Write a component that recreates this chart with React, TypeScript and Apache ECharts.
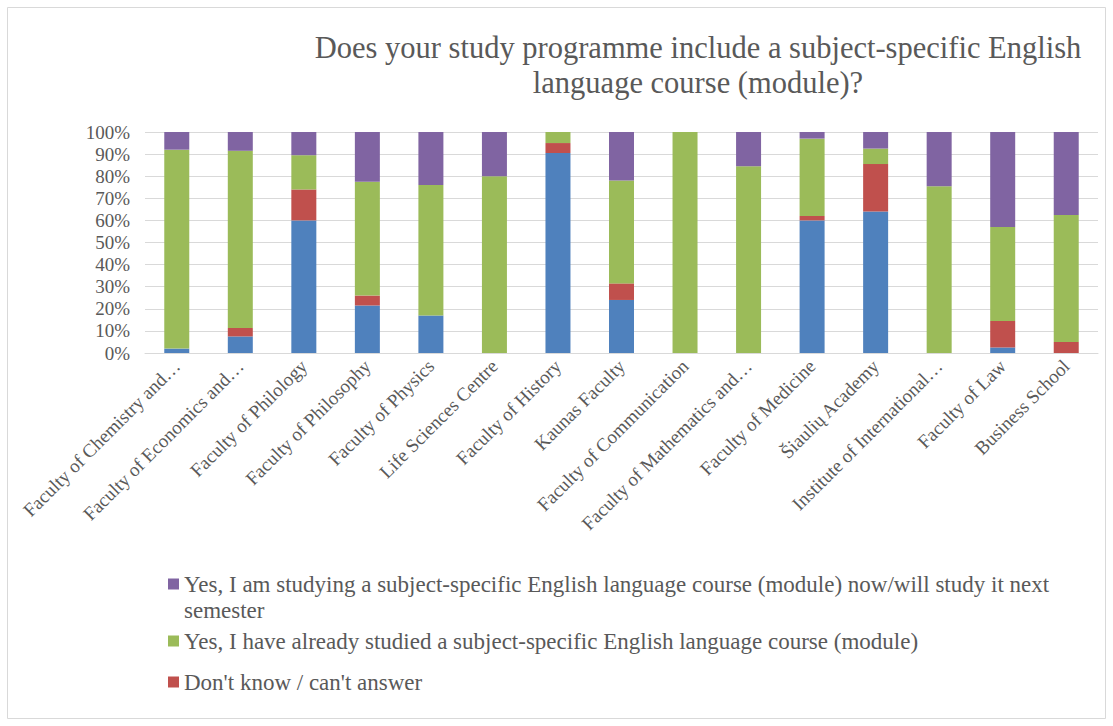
import React, { useEffect, useRef } from "react";
import * as echarts from "echarts";

const categories = [
  "Faculty of Chemistry and…",
  "Faculty of Economics and…",
  "Faculty of Philology",
  "Faculty of Philosophy",
  "Faculty of Physics",
  "Life Sciences Centre",
  "Faculty of History",
  "Kaunas Faculty",
  "Faculty of Communication",
  "Faculty of Mathematics and…",
  "Faculty of Medicine",
  "Šiaulių Academy",
  "Institute of International…",
  "Faculty of Law",
  "Business School",
];

const seriesNames = [
  "No",
  "Don't know / can't answer",
  "Yes, I have already studied a subject-specific English language course (module)",
  "Yes, I am studying a subject-specific English language course (module) now/will study it next semester",
];

const noValues = [2, 7.5, 60, 21.5, 17, 0, 90.5, 24, 0, 0, 60, 64, 0, 2.5, 0];
const dontKnowValues = [0, 3.8, 14, 4.5, 0, 0, 4.5, 7.5, 0, 0, 2, 21.5, 0, 12, 5];
const studiedValues = [90, 80.2, 15.5, 51.5, 59, 80, 5, 46.5, 100, 84.5, 35, 7, 75.5, 42.5, 57.5];
const studyingValues = [8, 8.5, 10.5, 22.5, 24, 20, 0, 22, 0, 15.5, 3, 7.5, 24.5, 43, 37.5];

const yTicks = [0, 10, 20, 30, 40, 50, 60, 70, 80, 90, 100];

const colors = ["#4f81bd", "#c0504d", "#9bbb59", "#8064a2"];
const FONT = "Liberation Serif";
const GRAY = "#595959";

export default function App() {
  const ref = useRef<HTMLDivElement>(null);
  useEffect(() => {
    document.body.style.margin = "0";
    const chart = echarts.init(ref.current!, null, { renderer: "svg" });
    const values = [noValues, dontKnowValues, studiedValues, studyingValues];
    const legendText = { fontFamily: FONT, fontSize: 23, color: GRAY, lineHeight: 26 };
    const legendBase = {
      orient: "vertical" as const,
      left: 168,
      padding: 0,
      itemWidth: 11,
      itemHeight: 11,
      itemGap: 0,
      icon: "rect",
      textStyle: legendText,
    };
    chart.setOption({
      animation: false,
      backgroundColor: "#ffffff",
      textStyle: { fontFamily: FONT },
      title: {
        text: "Does your study programme include a subject-specific English\nlanguage course (module)?",
        left: 698,
        top: 30,
        textAlign: "center",
        padding: 0,
        textStyle: { fontFamily: FONT, fontSize: 30.5, fontWeight: "normal", color: GRAY, lineHeight: 35 },
      },
      graphic: [
        {
          type: "rect",
          shape: { x: 7.5, y: 7.5, width: 1098, height: 711 },
          style: { fill: "none", stroke: "#d9d9d9", lineWidth: 1 },
          silent: true,
        },
      ],
      legend: [
        {
          ...legendBase,
          top: 545,
          data: [seriesNames[3]],
          formatter: () =>
            "\nYes, I am studying a subject-specific English language course (module) now/will study it next\nsemester",
        },
        { ...legendBase, top: 628, data: [seriesNames[2]] },
        { ...legendBase, top: 669, data: [seriesNames[1]] },
      ],
      grid: { left: 145, right: 15, top: 132, bottom: 373 },
      xAxis: {
        type: "category",
        data: categories,
        axisLine: { lineStyle: { color: "#d9d9d9" } },
        axisTick: { show: false },
        axisLabel: {
          interval: 0,
          rotate: 45,
          margin: 10,
          fontFamily: FONT,
          fontSize: 19,
          color: GRAY,
        },
      },
      yAxis: {
        type: "value",
        min: 0,
        max: 100,
        interval: 10,
        axisLine: { show: false },
        axisTick: { show: false },
        splitLine: { lineStyle: { color: "#d9d9d9", width: 1 } },
        axisLabel: {
          margin: 15,
          fontFamily: FONT,
          fontSize: 19,
          color: GRAY,
          formatter: (v: number) => (yTicks.includes(v) ? `${v}%` : ""),
        },
      },
      series: values.map((vals, i) => ({
        name: seriesNames[i],
        type: "bar",
        stack: "total",
        barWidth: 25,
        data: vals,
        itemStyle: { color: colors[i] },
      })),
    });
    return () => chart.dispose();
  }, []);
  return <div ref={ref} style={{ width: 1113, height: 726 }} />;
}
